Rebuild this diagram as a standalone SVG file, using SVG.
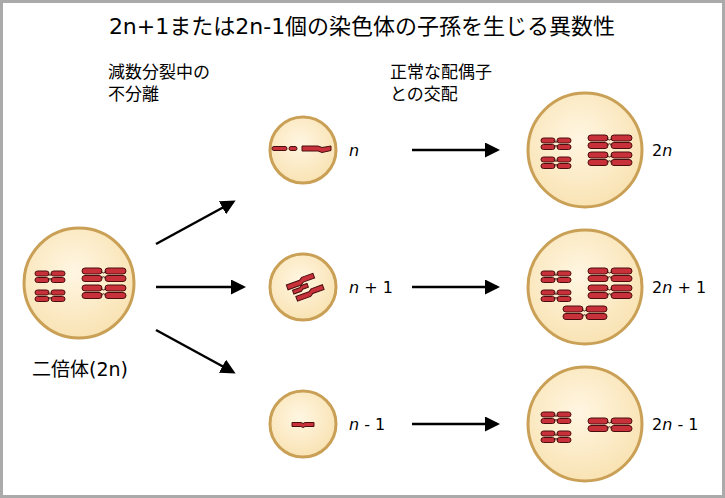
<svg xmlns="http://www.w3.org/2000/svg" width="725" height="498" viewBox="0 0 725 498">
<style>
text{font-family:"DejaVu Sans","Noto Sans CJK JP",sans-serif;fill:#000}
.t{font-size:22px}.j{font-size:17px}.k{font-size:19px}.l{font-size:16px}
.cell{fill:url(#g);stroke:#c9a055;stroke-width:3}
.ch{fill:#c9313a;stroke:#4a0e0e;stroke-width:1}
.ar{stroke:#000;stroke-width:2.5;fill:none;marker-end:url(#ah)}
</style>
<defs>
<marker id="ah" viewBox="0 0 10 10" refX="8" refY="5" markerWidth="6" markerHeight="6" orient="auto"><path d="M0,0L10,5L0,10z" fill="#000"/></marker>
<radialGradient id="g" cx="0.45" cy="0.4" r="0.6"><stop offset="0" stop-color="#fff6e2"/><stop offset="1" stop-color="#f9e3b4"/></radialGradient>
<g id="sm">
<rect class="ch" x="0" y="0" width="14" height="5" rx="2.5"/><rect class="ch" x="16" y="0" width="14" height="5" rx="2.5"/>
<rect class="ch" x="0" y="6.5" width="14" height="5" rx="2.5"/><rect class="ch" x="16" y="6.5" width="14" height="5" rx="2.5"/>
<path d="M13,2.5Q15,6 17,2.5M13,9Q15,6 17,9" fill="none" stroke="#3a0a0a" stroke-width="1"/>
</g>
<g id="lg">
<rect class="ch" x="0" y="0" width="20" height="6" rx="3"/><rect class="ch" x="23" y="0" width="21" height="6" rx="3"/>
<rect class="ch" x="0" y="7.5" width="20" height="6" rx="3"/><rect class="ch" x="23" y="7.5" width="21" height="6" rx="3"/>
<path d="M19,3Q21.5,7 24,3M19,10.5Q21.5,7 24,10.5" fill="none" stroke="#3a0a0a" stroke-width="1"/>
</g>
<g id="pair"><use href="#sm" x="-44" y="-12"/><use href="#sm" x="-44" y="7"/><use href="#lg" x="3" y="-15"/><use href="#lg" x="3" y="2"/></g>
</defs>
<rect x="1.5" y="1.5" width="722" height="495" fill="#fff" stroke="#aaa" stroke-width="3"/>
<text class="t" x="362" y="34" text-anchor="middle">2n+1または2n-1個の染色体の子孫を生じる異数性</text>
<text class="j" x="108" y="78">減数分裂中の</text><text class="j" x="108" y="100">不分離</text>
<text class="j" x="390" y="78">正常な配偶子</text><text class="j" x="390" y="100">との交配</text>
<g id="parent"><circle class="cell" cx="79" cy="283" r="55"/><use href="#pair" x="79" y="283"/></g>
<text class="k" x="80" y="376" text-anchor="middle">二倍体(2n)</text>
<g id="gn"><circle class="cell" cx="303" cy="150" r="33"/>
<rect class="ch" x="272" y="146.5" width="15" height="4" rx="2"/><rect class="ch" x="289" y="146.5" width="8" height="4" rx="2"/>
<path class="ch" d="M302,146h16l4,1.5l9,-1.5v4.5l-9,2l-4,-1.5h-16z"/></g>
<text class="l" x="349" y="156" font-style="italic">n</text>
<g id="gn1"><circle class="cell" cx="303" cy="287" r="33"/>
<g transform="rotate(-20 303 287)"><path class="ch" d="M288,279.5h14l3,-2l12,0v5l-12,0l-3,2h-14z"/><path class="ch" d="M292,286.5h8l2,-1.5l6,0v4l-6,0l-2,1.5h-8z"/><path class="ch" d="M293,293.5h14l3,-2l12,0v5l-12,0l-3,2h-14z"/></g></g>
<text class="l" x="349" y="293"><tspan font-style="italic">n</tspan> + 1</text>
<g id="gn-1"><circle class="cell" cx="303" cy="424" r="33"/><path class="ch" d="M292,422.5h9l2,1l2,-1h9v4h-9l-2,1l-2,-1h-9z"/></g>
<text class="l" x="349" y="430"><tspan font-style="italic">n</tspan> - 1</text>
<g id="c2n"><circle class="cell" cx="585" cy="150" r="57"/><use href="#pair" x="585" y="150"/></g>
<text class="l" x="652" y="156">2<tspan font-style="italic">n</tspan></text>
<g id="c2n1"><circle class="cell" cx="585" cy="287" r="57"/><use href="#pair" x="585" y="283"/><use href="#lg" x="563" y="306"/></g>
<text class="l" x="652" y="293">2<tspan font-style="italic">n</tspan> + 1</text>
<g id="c2n-1"><circle class="cell" cx="585" cy="424" r="57"/><use href="#sm" x="541" y="412"/><use href="#sm" x="541" y="431"/><use href="#lg" x="588" y="418"/></g>
<text class="l" x="652" y="430">2<tspan font-style="italic">n</tspan> - 1</text>
<g id="connectors">
<line class="ar" x1="156" y1="244" x2="233" y2="202"/>
<line class="ar" x1="156" y1="287" x2="243" y2="287"/>
<line class="ar" x1="156" y1="330" x2="233" y2="372"/>
<line class="ar" x1="412" y1="150" x2="497" y2="150"/>
<line class="ar" x1="412" y1="287" x2="497" y2="287"/>
<line class="ar" x1="412" y1="424" x2="497" y2="424"/>
</g>
</svg>
